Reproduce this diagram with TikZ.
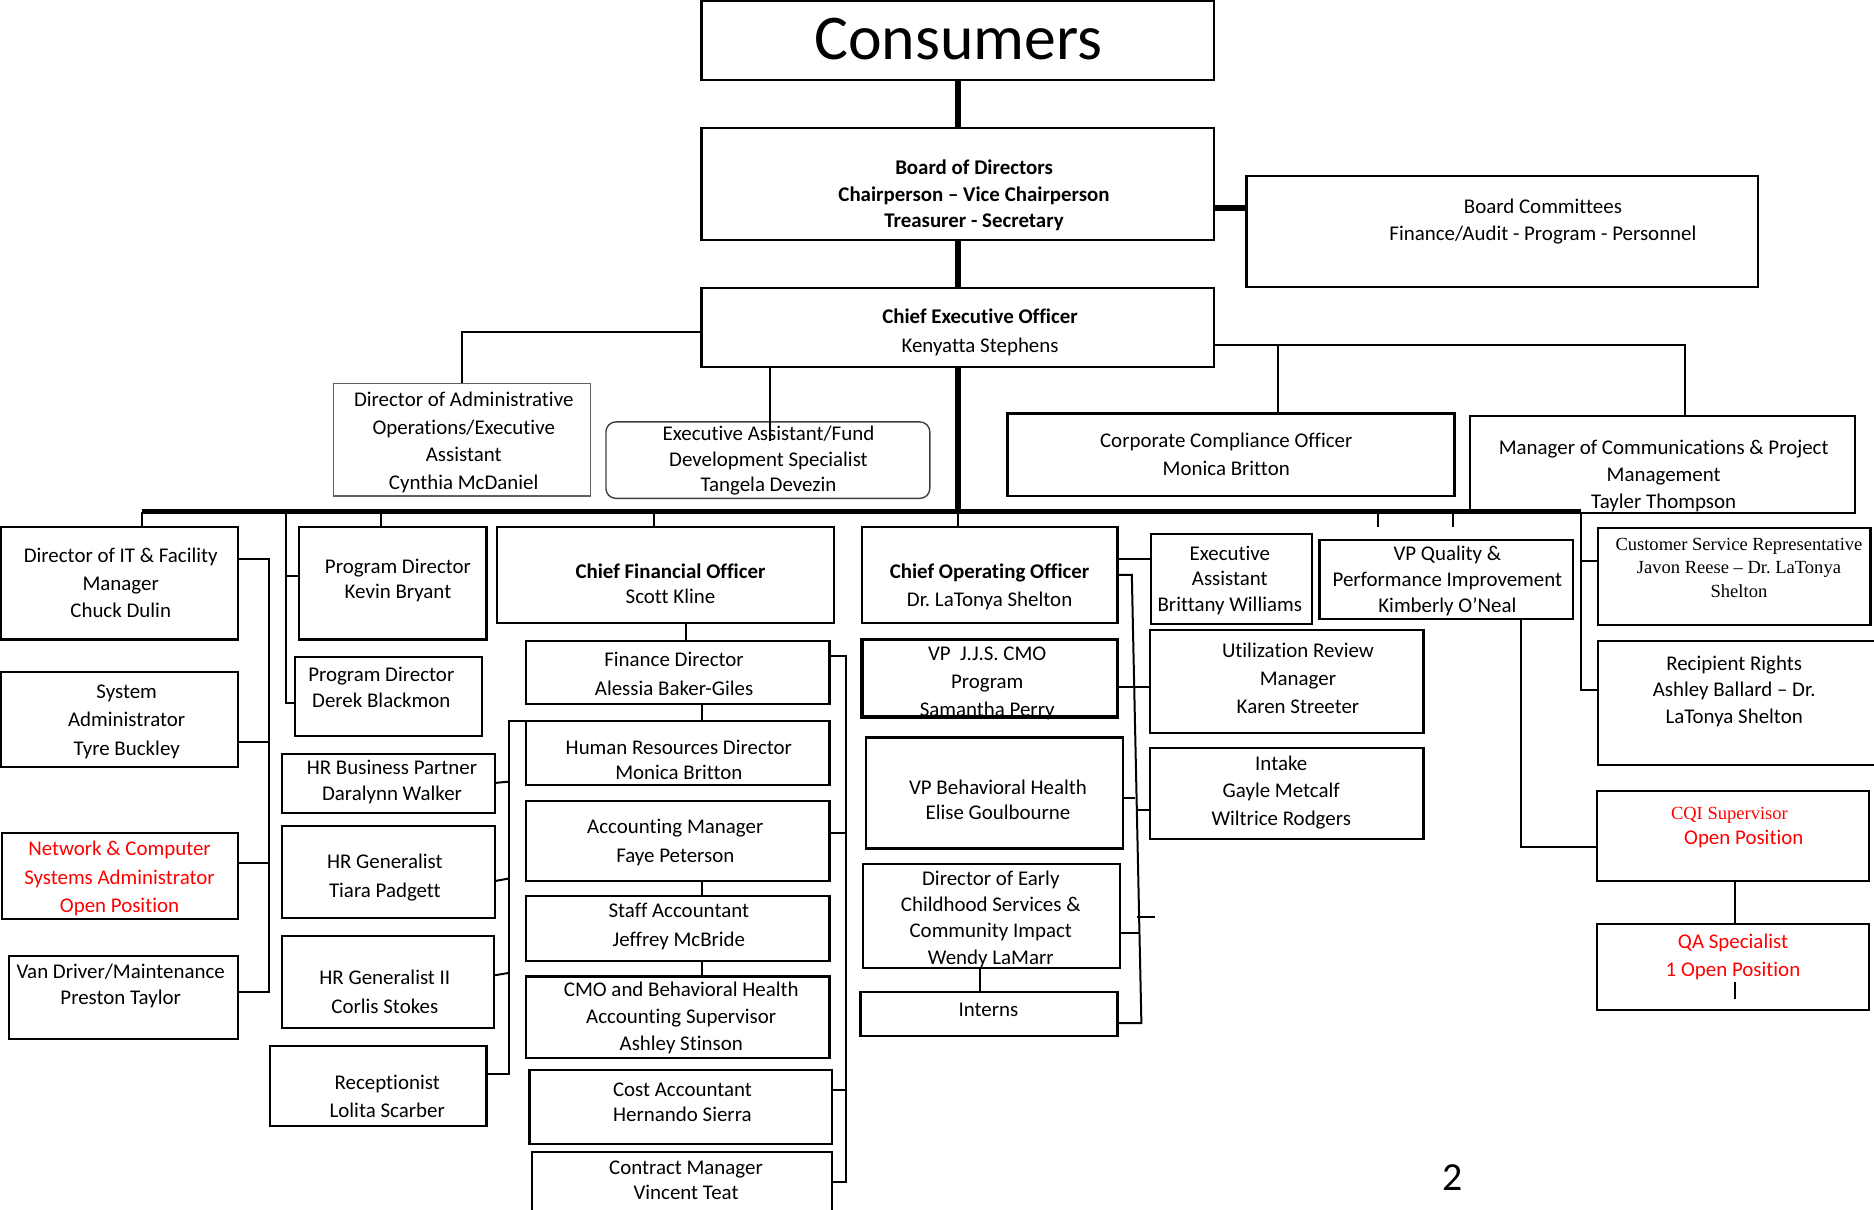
\documentclass[tikz,border=0pt]{standalone}
\usepackage{fontspec}
\setmainfont{Carlito}[Ligatures=NoCommon]
\newfontfamily\tms{Liberation Serif}
\usetikzlibrary{fit}
\definecolor{openred}{RGB}{255,0,0}
\definecolor{admgray}{RGB}{95,95,95}
\newcommand\bx[6][]{\node[box,#1,fit={(#3,#4) (#5,#6)}] (#2) {};}
\newcommand\tx[5][]{\node[txt,#1] (#2) at (#3,#4) {#5};}
\frenchspacing
\begin{document}
\begin{tikzpicture}[x=0.6pt,y=-0.6pt,
  box/.style={draw=black,line width=1.1pt,inner sep=0pt,rectangle},
  thinbox/.style={draw=admgray,line width=0.6pt},
  roundbox/.style={draw=black!75,line width=0.7pt,rounded corners=5pt},
  heavybox/.style={line width=1.8pt},
  txt/.style={align=center,inner sep=0pt,font=\fontsize{10.5}{13.8}\selectfont},
  ls/.style={font=\fontsize{10.5}{#1}\selectfont},
  bls/.style={font=\fontsize{10.5}{#1}\selectfont\bfseries},
  tls/.style={font=\tms\fontsize{9.3}{#1}\selectfont},
  red/.style={text=openred},
  conn/.style={draw=black,line width=1pt},
  heavy/.style={draw=black,line width=2.6pt},
  busline/.style={draw=black,line width=2.3pt}]
\useasboundingbox (0,0) rectangle (1568,1012);

% ---------- boxes ----------
\bx{cons}{587}{1}{1016}{67}
\bx{board}{587}{107}{1016}{201}
\bx{bcom}{1043}{147}{1471}{240}
\bx{ceo}{587}{241}{1016}{307}
\bx[thinbox]{admin}{279}{321}{494}{415}
\bx[roundbox]{ef}{507}{353}{778}{417}
\bx{cco}{843}{346}{1217}{415}
\bx{mgr}{1230}{348}{1552}{429}

\bx{it}{0.5}{441}{199}{535}
\bx{sys}{0.5}{562}{199}{642}
\bx{net}{1.5}{697}{199}{769}
\bx{van}{7.5}{800}{199}{869}

\bx{kevin}{250}{441}{407}{535}
\bx{derek}{247}{550}{403}{616}
\bx{hrbp}{236}{631}{414}{680}
\bx{hrgen}{236}{691}{414}{768}
\bx{hrgentwo}{236}{783}{413}{860}
\bx{recp}{226}{875}{407}{942}

\bx{cfo}{416}{441}{698}{521}
\bx{fin}{440}{536}{694}{589}
\bx{hrdir}{440}{603}{694}{657}
\bx{acc}{440}{670}{694}{737}
\bx{staff}{440}{750}{694}{804}
\bx{cmo}{440}{817}{694}{885}
\bx{cost}{443}{895}{696}{957}
\bx{contract}{445}{964}{696}{1016}

\bx{coo}{721}{441}{935}{521}
\bx[heavybox]{jjs}{721}{535}{935}{600}
\bx{vpbh}{724.5}{617}{939.5}{710}
\bx{ecs}{722}{723}{937}{810}
\bx{interns}{720}{830}{935}{867}

\bx{eabw}{963}{447}{1098}{522}
\bx{ur}{962}{527}{1191}{613}
\bx{intake}{962}{626}{1191}{702}
\bx{vpq}{1104}{452}{1316}{518}

\bx{csr}{1337}{442}{1565}{523}
\bx{rr}{1337}{536}{1572}{640}
\bx{cqi}{1336}{662}{1564}{737}
\bx{qa}{1336}{773}{1564}{845}

% ---------- texts ----------
\node[inner sep=0pt,font=\fontsize{32}{36}\selectfont] (cons-t) at (802,33) {Consumers};
\tx[bls=13.5]{board-t}{815}{163.5}{Board of Directors\\Chairperson – Vice Chairperson\\Treasurer - Secretary}
\tx[ls=13.8]{bcom-t}{1291}{185.5}{Board Committees\\Finance/Audit - Program - Personnel}
\tx[ls=14.4]{ceo-t}{820}{278}{{\bfseries Chief Executive Officer}\\Kenyatta Stephens}
\tx[ls=13.8]{admin-t}{388}{370}{Director of Administrative\\Operations/Executive\\Assistant\\Cynthia McDaniel}
\tx[ls=12.9]{ef-t}{643}{385.5}{Executive Assistant/Fund\\Development Specialist\\Tangela Devezin}
\tx[ls=14.4]{cco-t}{1026}{380}{Corporate Compliance Officer\\Monica Britton}
\tx[ls=13.5]{mgr-t}{1392}{398.5}{Manager of Communications \& Project\\Management\\Tayler Thompson}

\tx[ls=13.8]{it-t}{101}{488}{Director of IT \& Facility\\Manager\\Chuck Dulin}
\tx[ls=14.4]{sys-t}{106}{604}{System\\Administrator\\Tyre Buckley}
\tx[ls=14.4,red]{net-t}{100}{735}{Network \& Computer\\Systems Administrator\\Open Position}
\tx[ls=13.2]{van-t}{101}{825}{Van Driver/Maintenance\\Preston Taylor}

\tx[ls=12.6]{kevin-t}{333}{485.5}{Program Director\\Kevin Bryant}
\tx[ls=13.2]{derek-t}{319}{575}{Program Director\\Derek Blackmon}
\tx[ls=13.2]{hrbp-t}{328}{654}{HR Business Partner\\Daralynn Walker}
\tx[ls=14.4]{hrgen-t}{322}{734}{HR Generalist\\Tiara Padgett}
\tx[ls=14.4]{hrgentwo-t}{322}{830}{HR Generalist II\\Corlis Stokes}
\tx[ls=13.8]{recp-t}{324}{917.5}{Receptionist\\Lolita Scarber}

\tx[ls=12.6]{cfo-t}{561}{488.5}{{\bfseries Chief Financial Officer}\\Scott Kline}
\tx[ls=14.4]{fin-t}{564}{564}{Finance Director\\Alessia Baker-Giles}
\tx[ls=12.6]{hrdir-t}{568}{635.5}{Human Resources Director\\Monica Britton}
\tx[ls=14.4]{acc-t}{565}{705}{Accounting Manager\\Faye Peterson}
\tx[ls=14.4]{staff-t}{568}{775}{Staff Accountant\\Jeffrey McBride}
\tx[ls=13.5]{cmo-t}{570}{851.5}{CMO and Behavioral Health\\Accounting Supervisor\\Ashley Stinson}
\tx[ls=12.6]{cost-t}{571}{922.5}{Cost Accountant\\Hernando Sierra}
\tx[ls=12.6]{contract-t}{574}{987.5}{Contract Manager\\Vincent Teat}

\tx[ls=14.4]{coo-t}{828}{491}{{\bfseries Chief Operating Officer}\\Dr. LaTonya Shelton}
\tx[ls=14.1]{jjs-t}{826}{571.5}{VP\ \ J.J.S. CMO\\Program\\Samantha Perry}
\tx[ls=12.6]{vpbh-t}{835}{669.5}{VP Behavioral Health\\Elise Goulbourne}
\tx[ls=13.2]{ecs-t}{829}{769}{Director of Early\\Childhood Services \&\\Community Impact\\Wendy LaMarr}
\tx{interns-t}{827}{845}{Interns}

\tx[ls=12.9]{eabw-t}{1029}{485.5}{Executive\\Assistant\\Brittany Williams}
\tx[ls=14.1]{ur-t}{1086}{567.5}{Utilization Review\\Manager\\Karen Streeter}
\tx[ls=13.8]{intake-t}{1072}{663}{Intake\\Gayle Metcalf\\Wiltrice Rodgers}
\tx[ls=13.2]{vpq-t}{1211}{486}{VP Quality \&\\Performance Improvement\\Kimberly O’Neal}

\tx[tls=11.7]{csr-t}{1455}{475}{Customer Service Representative\\Javon Reese – Dr. LaTonya\\Shelton}
\tx[ls=13.5]{rr-t}{1451}{578.5}{Recipient Rights\\Ashley Ballard – Dr.\\LaTonya Shelton}
\tx[tls=11,red]{cqi-t}{1447}{682}{CQI Supervisor}
\tx[red]{cqi-u}{1459}{702}{Open Position}
\tx[ls=13.8,red]{qa-t}{1450}{800.5}{QA Specialist\\1 Open Position}
\node[inner sep=0pt,font=\fontsize{20}{24}\selectfont] (page) at (1215,985) {2};

% ---------- connectors ----------
\coordinate (busL) at (119,428);
\coordinate (busR) at (1323,428);
\draw[heavy] (cons.south) -- (board.north);
\draw[heavy] (board.south) -- (ceo.north);
\draw[heavy] (board.east |- 0,174) -- (bcom.west |- 0,174);
\draw[conn] (ceo.west |- 0,278) -| (admin.north);
\coordinate (efend) at (644,369);
\draw[conn] (ceo.south -| efend) -- (efend);
\draw[conn] (ceo.east |- 0,289) -- (1409.5,289) -- (mgr.north -| 1409.5,0);
\draw[conn] (1069,289) -- (cco.north -| 1069,0);
\draw[heavy] (ceo.south) -- (ceo.south |- busL);
\draw[busline] (busL) -- (busR);

% drops from bus
\draw[conn] (busL) -- (it.north -| busL);
\draw[conn] (239,428) -- (239,588) -- (derek.west |- 0,588);
\draw[conn] (239,482) -- (kevin.west |- 0,482);
\draw[conn] (319,428) -- (kevin.north -| 319,0);
\draw[conn] (547,428) -- (cfo.north -| 547,0);
\draw[conn] (801.5,428) -- (coo.north -| 801.5,0);
\coordinate (tickA) at (1153,441);
\coordinate (tickB) at (1216,441);
\draw[conn] (tickA |- busL) -- (tickA);
\draw[conn] (tickB |- busL) -- (tickB);
\draw[conn] (busR) -- (1323,577) -- (rr.west |- 0,577);
\draw[conn] (1323,469) -- (csr.west |- 0,469);

% IT group
\draw[conn] (it.east |- 0,468) -- (225,468) -- (225,830) -- (van.east |- 0,830);
\draw[conn] (sys.east |- 0,621) -- (225,621);
\draw[conn] (net.east |- 0,722) -- (225,722);

% HR group
\draw[conn] (hrdir.west |- 0,603) -- (426,603) -- (426,899) -- (recp.east |- 0,899);
\draw[conn] (hrbp.east |- 0,655) -- (426,654);
\draw[conn] (hrgen.east |- 0,737) -- (426,735);
\draw[conn] (hrgentwo.east |- 0,816) -- (426,814);

% finance group
\draw[conn] (cfo.south -| 574,0) -- (fin.north -| 574,0);
\draw[conn] (fin.south -| 587,0) -- (hrdir.north -| 587,0);
\draw[conn] (acc.south -| 587,0) -- (staff.north -| 587,0);
\draw[conn] (staff.south -| 587,0) -- (cmo.north -| 587,0);
\draw[conn] (fin.east |- 0,549) -- (708,549) -- (708,989) -- (contract.east |- 0,989);
\draw[conn] (acc.east |- 0,697) -- (708,697);
\draw[conn] (cost.east |- 0,912) -- (708,912);

% COO group
\draw[conn] (coo.east |- 0,468) -- (eabw.west |- 0,468);
\draw[conn] (coo.east |- 0,481) -- (947,481) -- (955,856) -- (interns.east |- 0,856);
\draw[conn] (jjs.east |- 0,575) -- (ur.west |- 0,575);
\draw[conn] (vpbh.east |- 0,668) -- (950,668);
\draw[conn] (951,678) -- (intake.west |- 0,678);
\draw[conn] (ecs.east |- 0,781) -- (953,781);
\draw[conn] (951,767) -- (966,767);
\draw[conn] (ecs.south -| 820,0) -- (interns.north -| 820,0);

% quality group
\draw[conn] (vpq.south -| 1273,0) -- (1273,709) -- (cqi.west |- 0,709);
\draw[conn] (cqi.south -| 1452,0) -- (qa.north -| 1452,0);
\coordinate (qtA) at (1452,822);
\coordinate (qtB) at (1452,836);
\draw[conn] (qtA) -- (qtB);
\end{tikzpicture}
\end{document}
